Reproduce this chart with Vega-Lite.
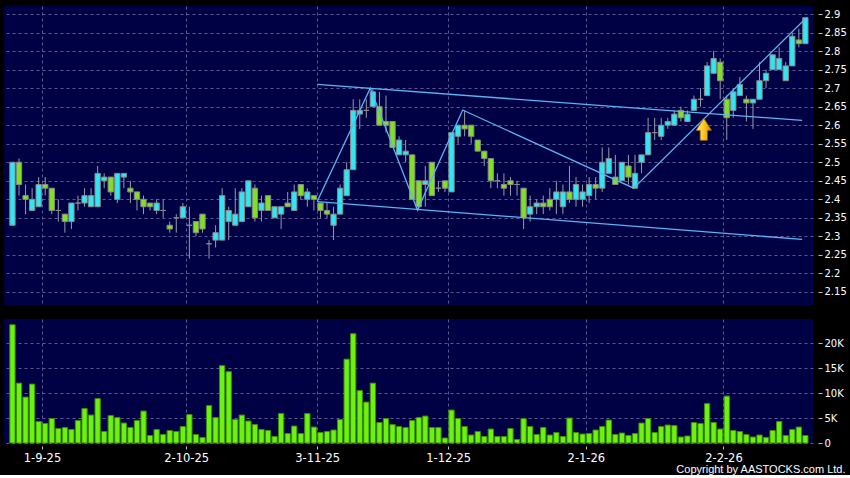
{
  "$schema": "https://vega.github.io/schema/vega-lite/v6.json",
  "background": "#000000",
  "padding": {"top": 6, "left": 4, "right": 4, "bottom": 0},
  "spacing": 14,
  "config": {
    "view": {"fill": "#000044", "stroke": null},
    "axis": {"domain": false, "labelColor": "#ffffff", "labelFont": "DejaVu Sans", "labelFontSize": 10, "tickColor": "#c0c0c0", "gridColor": "#5a5a92", "gridDash": [3, 3], "gridWidth": 1, "titleColor": "#ffffff"}
  },
  "datasets": {
    "candles": [
      {"i":0,"o":2.33,"h":2.50,"l":2.33,"c":2.50,"v":23700},
      {"i":1,"o":2.50,"h":2.51,"l":2.41,"c":2.44,"v":12000},
      {"i":2,"o":2.41,"h":2.44,"l":2.36,"c":2.40,"v":9200},
      {"i":3,"o":2.37,"h":2.43,"l":2.37,"c":2.40,"v":11800},
      {"i":4,"o":2.38,"h":2.46,"l":2.38,"c":2.44,"v":4300},
      {"i":5,"o":2.44,"h":2.46,"l":2.41,"c":2.43,"v":3900},
      {"i":6,"o":2.43,"h":2.43,"l":2.36,"c":2.37,"v":4900},
      {"i":7,"o":2.37,"h":2.40,"l":2.34,"c":2.37,"v":2900},
      {"i":8,"o":2.36,"h":2.36,"l":2.31,"c":2.34,"v":3100},
      {"i":9,"o":2.34,"h":2.39,"l":2.32,"c":2.39,"v":2700},
      {"i":10,"o":2.39,"h":2.41,"l":2.37,"c":2.39,"v":4500},
      {"i":11,"o":2.39,"h":2.43,"l":2.38,"c":2.41,"v":6900},
      {"i":12,"o":2.38,"h":2.43,"l":2.38,"c":2.41,"v":5600},
      {"i":13,"o":2.38,"h":2.49,"l":2.38,"c":2.47,"v":8900},
      {"i":14,"o":2.45,"h":2.47,"l":2.43,"c":2.46,"v":2300},
      {"i":15,"o":2.46,"h":2.46,"l":2.41,"c":2.42,"v":5500},
      {"i":16,"o":2.40,"h":2.47,"l":2.39,"c":2.47,"v":5100},
      {"i":17,"o":2.46,"h":2.47,"l":2.43,"c":2.47,"v":4000},
      {"i":18,"o":2.43,"h":2.45,"l":2.39,"c":2.42,"v":3100},
      {"i":19,"o":2.42,"h":2.42,"l":2.37,"c":2.40,"v":4500},
      {"i":20,"o":2.40,"h":2.41,"l":2.36,"c":2.38,"v":6400},
      {"i":21,"o":2.39,"h":2.39,"l":2.37,"c":2.38,"v":1500},
      {"i":22,"o":2.37,"h":2.40,"l":2.36,"c":2.39,"v":2700},
      {"i":23,"o":2.37,"h":2.40,"l":2.35,"c":2.37,"v":1700},
      {"i":24,"o":2.33,"h":2.34,"l":2.31,"c":2.32,"v":2500},
      {"i":25,"o":2.35,"h":2.36,"l":2.31,"c":2.35,"v":2300},
      {"i":26,"o":2.35,"h":2.39,"l":2.35,"c":2.38,"v":3300},
      {"i":27,"o":2.33,"h":2.38,"l":2.24,"c":2.33,"v":5700},
      {"i":28,"o":2.34,"h":2.34,"l":2.30,"c":2.31,"v":1700},
      {"i":29,"o":2.36,"h":2.36,"l":2.31,"c":2.32,"v":1100},
      {"i":30,"o":2.28,"h":2.29,"l":2.24,"c":2.28,"v":7500},
      {"i":31,"o":2.29,"h":2.33,"l":2.27,"c":2.31,"v":5100},
      {"i":32,"o":2.29,"h":2.43,"l":2.29,"c":2.41,"v":15500},
      {"i":33,"o":2.34,"h":2.38,"l":2.29,"c":2.37,"v":14300},
      {"i":34,"o":2.33,"h":2.43,"l":2.33,"c":2.36,"v":4700},
      {"i":35,"o":2.34,"h":2.43,"l":2.34,"c":2.42,"v":5600},
      {"i":36,"o":2.38,"h":2.45,"l":2.38,"c":2.45,"v":4400},
      {"i":37,"o":2.43,"h":2.44,"l":2.34,"c":2.35,"v":3700},
      {"i":38,"o":2.37,"h":2.41,"l":2.34,"c":2.39,"v":2700},
      {"i":39,"o":2.41,"h":2.41,"l":2.37,"c":2.37,"v":2500},
      {"i":40,"o":2.35,"h":2.38,"l":2.35,"c":2.38,"v":1300},
      {"i":41,"o":2.36,"h":2.38,"l":2.32,"c":2.38,"v":5900},
      {"i":42,"o":2.39,"h":2.42,"l":2.38,"c":2.38,"v":1900},
      {"i":43,"o":2.37,"h":2.44,"l":2.37,"c":2.42,"v":3400},
      {"i":44,"o":2.44,"h":2.44,"l":2.40,"c":2.41,"v":1900},
      {"i":45,"o":2.40,"h":2.43,"l":2.38,"c":2.42,"v":5900},
      {"i":46,"o":2.41,"h":2.41,"l":2.37,"c":2.40,"v":3200},
      {"i":47,"o":2.39,"h":2.39,"l":2.35,"c":2.37,"v":2100},
      {"i":48,"o":2.37,"h":2.39,"l":2.35,"c":2.36,"v":2300},
      {"i":49,"o":2.33,"h":2.38,"l":2.29,"c":2.36,"v":2600},
      {"i":50,"o":2.36,"h":2.44,"l":2.36,"c":2.43,"v":4700},
      {"i":51,"o":2.41,"h":2.50,"l":2.41,"c":2.48,"v":16800},
      {"i":52,"o":2.48,"h":2.67,"l":2.48,"c":2.64,"v":21900},
      {"i":53,"o":2.63,"h":2.67,"l":2.59,"c":2.64,"v":10500},
      {"i":54,"o":2.64,"h":2.67,"l":2.62,"c":2.64,"v":8200},
      {"i":55,"o":2.65,"h":2.70,"l":2.65,"c":2.69,"v":12000},
      {"i":56,"o":2.65,"h":2.69,"l":2.60,"c":2.60,"v":4100},
      {"i":57,"o":2.61,"h":2.68,"l":2.58,"c":2.60,"v":4900},
      {"i":58,"o":2.61,"h":2.61,"l":2.54,"c":2.54,"v":3700},
      {"i":59,"o":2.52,"h":2.57,"l":2.52,"c":2.56,"v":3300},
      {"i":60,"o":2.52,"h":2.56,"l":2.50,"c":2.53,"v":3100},
      {"i":61,"o":2.52,"h":2.52,"l":2.40,"c":2.40,"v":4500},
      {"i":62,"o":2.45,"h":2.45,"l":2.37,"c":2.38,"v":5100},
      {"i":63,"o":2.44,"h":2.49,"l":2.38,"c":2.45,"v":5400},
      {"i":64,"o":2.50,"h":2.50,"l":2.41,"c":2.41,"v":3100},
      {"i":65,"o":2.43,"h":2.45,"l":2.42,"c":2.43,"v":3100},
      {"i":66,"o":2.45,"h":2.45,"l":2.42,"c":2.43,"v":1000},
      {"i":67,"o":2.42,"h":2.58,"l":2.42,"c":2.58,"v":6600},
      {"i":68,"o":2.57,"h":2.60,"l":2.55,"c":2.60,"v":4900},
      {"i":69,"o":2.60,"h":2.64,"l":2.57,"c":2.59,"v":3300},
      {"i":70,"o":2.60,"h":2.60,"l":2.55,"c":2.57,"v":1600},
      {"i":71,"o":2.56,"h":2.56,"l":2.53,"c":2.53,"v":2300},
      {"i":72,"o":2.53,"h":2.53,"l":2.49,"c":2.51,"v":1300},
      {"i":73,"o":2.51,"h":2.51,"l":2.43,"c":2.45,"v":2800},
      {"i":74,"o":2.45,"h":2.47,"l":2.43,"c":2.45,"v":1300},
      {"i":75,"o":2.44,"h":2.47,"l":2.41,"c":2.43,"v":1300},
      {"i":76,"o":2.45,"h":2.46,"l":2.41,"c":2.44,"v":2900},
      {"i":77,"o":2.44,"h":2.45,"l":2.41,"c":2.44,"v":700},
      {"i":78,"o":2.43,"h":2.43,"l":2.32,"c":2.35,"v":4900},
      {"i":79,"o":2.36,"h":2.41,"l":2.34,"c":2.38,"v":3300},
      {"i":80,"o":2.38,"h":2.40,"l":2.36,"c":2.39,"v":1700},
      {"i":81,"o":2.39,"h":2.41,"l":2.36,"c":2.38,"v":3100},
      {"i":82,"o":2.40,"h":2.43,"l":2.37,"c":2.38,"v":1600},
      {"i":83,"o":2.40,"h":2.45,"l":2.36,"c":2.42,"v":2100},
      {"i":84,"o":2.38,"h":2.44,"l":2.36,"c":2.42,"v":1300},
      {"i":85,"o":2.42,"h":2.49,"l":2.39,"c":2.40,"v":5000},
      {"i":86,"o":2.40,"h":2.46,"l":2.38,"c":2.44,"v":2100},
      {"i":87,"o":2.40,"h":2.44,"l":2.38,"c":2.42,"v":1800},
      {"i":88,"o":2.41,"h":2.46,"l":2.39,"c":2.44,"v":1900},
      {"i":89,"o":2.44,"h":2.46,"l":2.40,"c":2.43,"v":2600},
      {"i":90,"o":2.43,"h":2.54,"l":2.42,"c":2.50,"v":3300},
      {"i":91,"o":2.47,"h":2.54,"l":2.47,"c":2.51,"v":4600},
      {"i":92,"o":2.46,"h":2.52,"l":2.44,"c":2.44,"v":1700},
      {"i":93,"o":2.45,"h":2.50,"l":2.45,"c":2.50,"v":2000},
      {"i":94,"o":2.49,"h":2.52,"l":2.44,"c":2.46,"v":1500},
      {"i":95,"o":2.43,"h":2.52,"l":2.43,"c":2.47,"v":1900},
      {"i":96,"o":2.50,"h":2.52,"l":2.47,"c":2.52,"v":4000},
      {"i":97,"o":2.52,"h":2.62,"l":2.52,"c":2.58,"v":4900},
      {"i":98,"o":2.58,"h":2.62,"l":2.56,"c":2.58,"v":2100},
      {"i":99,"o":2.57,"h":2.62,"l":2.56,"c":2.60,"v":3300},
      {"i":100,"o":2.60,"h":2.62,"l":2.59,"c":2.61,"v":3600},
      {"i":101,"o":2.60,"h":2.64,"l":2.60,"c":2.63,"v":3500},
      {"i":102,"o":2.64,"h":2.65,"l":2.61,"c":2.62,"v":1200},
      {"i":103,"o":2.61,"h":2.64,"l":2.61,"c":2.63,"v":1400},
      {"i":104,"o":2.64,"h":2.68,"l":2.64,"c":2.67,"v":4100},
      {"i":105,"o":2.67,"h":2.70,"l":2.65,"c":2.67,"v":3900},
      {"i":106,"o":2.68,"h":2.77,"l":2.68,"c":2.76,"v":7900},
      {"i":107,"o":2.74,"h":2.80,"l":2.74,"c":2.78,"v":4100},
      {"i":108,"o":2.77,"h":2.78,"l":2.67,"c":2.72,"v":2800},
      {"i":109,"o":2.67,"h":2.68,"l":2.56,"c":2.62,"v":9400},
      {"i":110,"o":2.64,"h":2.70,"l":2.62,"c":2.69,"v":2500},
      {"i":111,"o":2.68,"h":2.73,"l":2.68,"c":2.71,"v":2300},
      {"i":112,"o":2.67,"h":2.68,"l":2.61,"c":2.66,"v":1700},
      {"i":113,"o":2.66,"h":2.67,"l":2.59,"c":2.67,"v":1200},
      {"i":114,"o":2.67,"h":2.77,"l":2.67,"c":2.72,"v":1600},
      {"i":115,"o":2.72,"h":2.75,"l":2.70,"c":2.74,"v":1100},
      {"i":116,"o":2.75,"h":2.79,"l":2.75,"c":2.79,"v":2500},
      {"i":117,"o":2.75,"h":2.81,"l":2.75,"c":2.78,"v":4300},
      {"i":118,"o":2.72,"h":2.77,"l":2.72,"c":2.76,"v":1500},
      {"i":119,"o":2.76,"h":2.85,"l":2.76,"c":2.84,"v":2700},
      {"i":120,"o":2.83,"h":2.86,"l":2.81,"c":2.82,"v":3200},
      {"i":121,"o":2.82,"h":2.89,"l":2.82,"c":2.89,"v":1500}
    ],
    "trend": [
      {"id":"up","k":0,"i":46.5,"p":2.710},
      {"id":"up","k":1,"i":120.5,"p":2.613},
      {"id":"lo","k":0,"i":46.5,"p":2.394},
      {"id":"lo","k":1,"i":120.5,"p":2.292},
      {"id":"zz","k":0,"i":46.5,"p":2.394},
      {"id":"zz","k":1,"i":54.6,"p":2.700},
      {"id":"zz","k":2,"i":61.8,"p":2.371},
      {"id":"zz","k":3,"i":68.7,"p":2.641},
      {"id":"zz","k":4,"i":94.8,"p":2.430},
      {"id":"zz","k":5,"i":121.0,"p":2.887}
    ],
    "arrow": [{"i":105.5,"p":2.589}]
  },
  "vconcat": [
    {
      "width": 809,
      "height": 299,
      "encoding": {
        "x": {"field": "i", "type": "quantitative",
          "scale": {"domain": [-0.527, 121.4], "nice": false, "zero": false},
          "axis": {"values": [4.5, 26.5, 46.5, 66.5, 87.5, 108.5], "labels": false, "ticks": false, "grid": true, "title": null}}
      },
      "layer": [
        {
          "data": {"name": "candles"},
          "mark": {"type": "rule", "color": "#9a9aa8", "strokeWidth": 1},
          "encoding": {
            "y": {"field": "l", "type": "quantitative",
              "scale": {"domain": [2.1149, 2.9216], "nice": false, "zero": false},
              "axis": {"orient": "right", "values": [2.15, 2.2, 2.25, 2.3, 2.35, 2.4, 2.45, 2.5, 2.55, 2.6, 2.65, 2.7, 2.75, 2.8, 2.85, 2.9], "format": ".3~g", "offset": 5, "tickSize": 4, "labelPadding": 2, "grid": true, "title": null}},
            "y2": {"field": "h"}
          }
        },
        {
          "data": {"name": "candles"},
          "mark": {"type": "bar", "size": 5.3, "stroke": "#8a8a8a", "strokeWidth": 1},
          "encoding": {
            "y": {"field": "o", "type": "quantitative",
              "axis": {"orient": "right", "values": [2.15, 2.2, 2.25, 2.3, 2.35, 2.4, 2.45, 2.5, 2.55, 2.6, 2.65, 2.7, 2.75, 2.8, 2.85, 2.9], "format": ".3~g", "offset": 5, "tickSize": 4, "labelPadding": 2, "grid": true, "title": null}},
            "y2": {"field": "c"},
            "fill": {"condition": {"test": "datum.c >= datum.o", "value": "#30e6f2"}, "value": "#80e022"}
          }
        },
        {
          "data": {"name": "trend"},
          "mark": {"type": "line", "color": "#5cb4f2", "strokeWidth": 1.3},
          "encoding": {
            "y": {"field": "p", "type": "quantitative",
              "axis": {"orient": "right", "values": [2.15, 2.2, 2.25, 2.3, 2.35, 2.4, 2.45, 2.5, 2.55, 2.6, 2.65, 2.7, 2.75, 2.8, 2.85, 2.9], "format": ".3~g", "offset": 5, "tickSize": 4, "labelPadding": 2, "grid": true, "title": null}},
            "detail": {"field": "id"},
            "order": {"field": "k"}
          }
        },
        {
          "data": {"name": "arrow"},
          "mark": {"type": "point", "filled": true, "size": 490, "opacity": 1,
            "shape": "M0,-1L0.7,0.1L0.33,0.1L0.33,1L-0.33,1L-0.33,0.1L-0.7,0.1Z",
            "fill": {"gradient": "linear", "x1": 0, "y1": 0, "x2": 1, "y2": 0, "stops": [{"offset": 0, "color": "#fff27a"}, {"offset": 0.5, "color": "#ffc81e"}, {"offset": 1, "color": "#d88a00"}]},
            "stroke": "#9a5a00", "strokeWidth": 0.8},
          "encoding": {
            "y": {"field": "p", "type": "quantitative",
              "axis": {"orient": "right", "values": [2.15, 2.2, 2.25, 2.3, 2.35, 2.4, 2.45, 2.5, 2.55, 2.6, 2.65, 2.7, 2.75, 2.8, 2.85, 2.9], "format": ".3~g", "offset": 5, "tickSize": 4, "labelPadding": 2, "grid": true, "title": null}}
          }
        }
      ]
    },
    {
      "width": 809,
      "height": 124,
      "data": {"name": "candles"},
      "mark": {"type": "bar", "size": 5.3, "fill": "#6cf210", "stroke": "#3d8c06", "strokeWidth": 1},
      "encoding": {
        "x": {"field": "i", "type": "quantitative",
          "scale": {"domain": [-0.527, 121.4], "nice": false, "zero": false},
          "axis": {"values": [4.5, 26.5, 46.5, 66.5, 87.5, 108.5],
            "labelExpr": "datum.value < 10 ? '1-9-25' : datum.value < 30 ? '2-10-25' : datum.value < 50 ? '3-11-25' : datum.value < 70 ? '1-12-25' : datum.value < 90 ? '2-1-26' : '2-2-26'",
            "labelFontSize": 11.5, "offset": 3, "tickSize": 3, "labelPadding": 3, "grid": true, "labelFlush": false,
            "title": "Copyright by AASTOCKS.com Ltd.", "titleFont": "Liberation Sans", "titleFontSize": 11, "titleFontWeight": "normal",
            "titleAnchor": "end", "titleAlign": "right", "titleX": 841, "titlePadding": 0}},
        "y": {"field": "v", "type": "quantitative",
          "scale": {"domain": [0, 24850], "nice": false},
          "axis": {"orient": "right", "values": [0, 5000, 10000, 15000, 20000], "labelExpr": "datum.value == 0 ? '0' : (datum.value / 1000) + 'K'", "offset": 5, "tickSize": 4, "labelPadding": 2, "grid": true, "title": null}}
      }
    }
  ]
}
